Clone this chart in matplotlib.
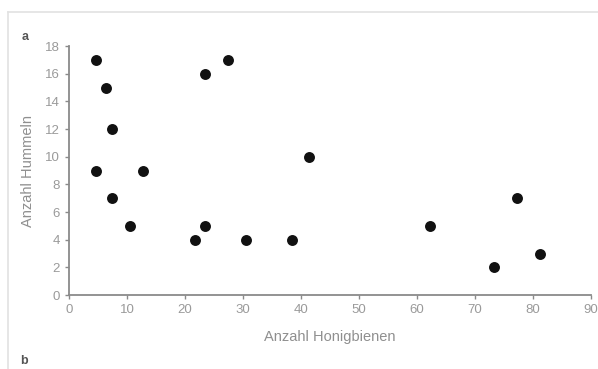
import numpy as np
import matplotlib.pyplot as plt
from matplotlib.lines import Line2D

# Anzahl Honigbienen / Hummeln pro Beobachtung
honigbienen = [4.6, 6.4, 7.4, 4.6, 7.4, 12.7, 10.6, 21.7, 23.4, 23.4, 27.5,
               30.5, 38.4, 41.4, 62.2, 73.3, 77.2, 81.2]
hummeln = [17, 15, 12, 9, 7, 9, 5, 4, 5, 16, 17, 4, 4, 10, 5, 2, 7, 3]

x_ticks = np.arange(0, 91, 10)
y_ticks = np.arange(0, 19, 2)

fig = plt.figure(figsize=(5.98, 3.69), dpi=100)
plt.rcParams['font.family'] = ['Liberation Sans', 'DejaVu Sans']
ax = fig.add_axes([0.1154, 0.2005, 0.8726, 0.6745])

ax.scatter(honigbienen, hummeln, s=62, color="#111111", zorder=3, linewidths=0)

ax.set_xlim(0, 90)
ax.set_ylim(0, 18)
ax.set_xticks(x_ticks)
ax.set_yticks(y_ticks)
for s in ["top", "right"]:
  ax.spines[s].set_visible(False)
for s in ["left", "bottom"]:
  ax.spines[s].set_color("#8a8a8a")
  ax.spines[s].set_linewidth(1.3)
ax.tick_params(colors="#8a8a8a", labelcolor="#9a9a9a", labelsize=9.5, length=3, width=1)
ax.set_xlabel("Anzahl Honigbienen", color="#8f8f8f", fontsize=10.5, labelpad=10)
ax.set_ylabel("Anzahl Hummeln", color="#8f8f8f", fontsize=10.5, labelpad=7)

# heller Rahmen der Abbildung
fig.add_artist(Line2D([8/598, 1], [1 - 12/369, 1 - 12/369], color="#e2e2e2", lw=1.2))
fig.add_artist(Line2D([8/598, 8/598], [0, 1 - 12/369], color="#e2e2e2", lw=1.2))

fig.text(22/598, 1 - 37/369, "a", fontsize=9, fontweight="bold", color="#555555", va="center")
fig.text(20/598, 2/369, "b", fontsize=9, fontweight="bold", color="#555555", va="bottom")

fig.savefig("out.png", dpi=100)
